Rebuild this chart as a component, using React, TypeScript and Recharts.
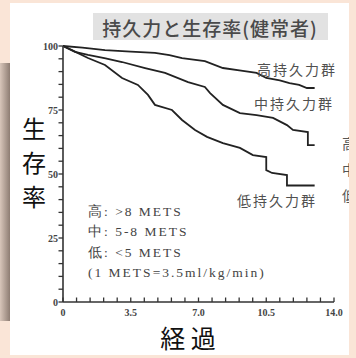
import React from "react";
import { LineChart, Line, XAxis, YAxis } from "recharts";

// Survival (%) vs elapsed years, three endurance groups
const highGroup = [
  { t: 0, s: 100 }, { t: 1.0, s: 99.4 }, { t: 2.17, s: 98.4 }, { t: 3.5, s: 97.8 },
  { t: 4.75, s: 97.3 }, { t: 5.5, s: 96.4 }, { t: 6.15, s: 95.3 }, { t: 7.33, s: 94.1 },
  { t: 8.26, s: 91.4 }, { t: 9.2, s: 90.4 }, { t: 10.0, s: 89.5 }, { t: 10.5, s: 87.5 },
  { t: 11.2, s: 86.6 }, { t: 11.7, s: 85.5 }, { t: 12.2, s: 84.8 }, { t: 12.6, s: 83.6 },
  { t: 13.0, s: 83.6 },
];
const midGroup = [
  { t: 0, s: 100 }, { t: 0.62, s: 97.7 }, { t: 1.29, s: 96.5 }, { t: 2.2, s: 95.2 },
  { t: 3.05, s: 93.75 }, { t: 4.24, s: 91.4 }, { t: 5.27, s: 89.5 }, { t: 6.46, s: 85.9 },
  { t: 7.33, s: 84.0 }, { t: 7.6, s: 81.6 }, { t: 8.26, s: 77.0 }, { t: 9.14, s: 73.8 },
  { t: 10.0, s: 73.0 }, { t: 10.85, s: 71.9 }, { t: 11.57, s: 69.1 }, { t: 11.88, s: 67.2 },
  { t: 12.65, s: 66.4 }, { t: 12.65, s: 61.3 }, { t: 13.0, s: 61.3 },
];
const lowGroup = [
  { t: 0, s: 100 }, { t: 0.46, s: 98.4 }, { t: 1.29, s: 95.3 }, { t: 2.17, s: 92.6 },
  { t: 3.05, s: 87.5 }, { t: 3.87, s: 84.8 }, { t: 4.39, s: 80.9 }, { t: 4.75, s: 77.0 },
  { t: 5.63, s: 75.0 }, { t: 6.15, s: 71.1 }, { t: 6.82, s: 67.2 }, { t: 7.44, s: 64.5 },
  { t: 8.26, s: 62.1 }, { t: 9.14, s: 60.2 }, { t: 9.81, s: 57.4 }, { t: 10.5, s: 56.6 },
  { t: 10.5, s: 51.5 }, { t: 10.8, s: 50.4 }, { t: 11.57, s: 49.6 }, { t: 11.57, s: 45.5 },
  { t: 13.0, s: 45.5 },
];

const xTicks = [0, 0.7, 1.4, 2.1, 2.8, 3.5, 4.2, 4.9, 5.6, 6.3, 7, 7.7, 8.4, 9.1, 9.8, 10.5, 11.2, 11.9, 12.6, 13.3, 14];
const xMajor = [0, 3.5, 7, 10.5, 14];
const xMajorLabels = ["0", "3.5", "7.0", "10.5", "14.0"];
const yTicks = [0, 5, 10, 15, 20, 25, 30, 35, 40, 45, 50, 55, 60, 65, 70, 75, 80, 85, 90, 95, 100];
const yMajor = [0, 25, 50, 75, 100];
const yMajorLabels = ["0", "25", "50", "75", "100"];

const title = "持久力と生存率(健常者)";
const yTitleChars = ["生", "存", "率"];
const xTitle = "経 過";
const groupLabels = ["高持久力群", "中持久力群", "低持久力群"];
const legendLines = ["高: >8 METS", "中: 5-8 METS", "低: <5 METS", "(1 METS=3.5ml/kg/min)"];
const edgeChars = ["高", "中", "低"];

const JP = '"Noto Sans CJK JP", "Noto Sans", sans-serif';
const SERIF = '"Liberation Serif", "DejaVu Serif", serif';

const XTick = (props: any) => {
  const { x, payload } = props;
  const idx = xMajor.findIndex((m) => Math.abs(m - payload.value) < 1e-6);
  if (idx < 0) return <g />;
  return (
    <text x={x} y={316} textAnchor="middle" fontFamily={SERIF} fontWeight="bold" fontSize={10} fill="#444">
      {xMajorLabels[idx]}
    </text>
  );
};

const YTick = (props: any) => {
  const { y, payload } = props;
  const idx = yMajor.findIndex((m) => Math.abs(m - payload.value) < 1e-6);
  if (idx < 0) return <g />;
  return (
    <text x={58} y={y + 3.5} textAnchor="end" fontFamily={SERIF} fontWeight="bold" fontSize={10} fill="#444">
      {yMajorLabels[idx]}
    </text>
  );
};

export default function App() {
  return (
    <div style={{ position: "absolute", left: 0, top: 0, width: 356, height: 358, background: "#fae5d7", overflow: "hidden" }}>
      <svg width={356} height={358} style={{ position: "absolute", left: 0, top: 0 }}>
        <defs>
          <linearGradient id="strip" x1="0" x2="1" y1="0" y2="0">
            <stop offset="0" stopColor="#d8c6ba" />
            <stop offset="1" stopColor="#8e7d73" />
          </linearGradient>
          <clipPath id="edge">
            <rect x={340} y={120} width={9} height={100} />
          </clipPath>
        </defs>
        <rect x={10} y={3} width={339} height={352} fill="#ffffff" />
        <rect x={0} y={63} width={10} height={258} fill="url(#strip)" />
        <rect x={93} y={13} width={235} height={27} fill="#e2e2e2" />
      </svg>
      <div style={{ position: "absolute", left: 0, top: 0 }}>
        <LineChart width={356} height={358} margin={{ top: 46, right: 22, bottom: 56, left: 33 }}>
          <XAxis
            dataKey="t"
            type="number"
            domain={[0, 14]}
            ticks={xTicks}
            interval={0}
            height={20}
            mirror
            tickSize={4.5}
            tickLine={{ stroke: "#333", strokeWidth: 1.3 }}
            tick={<XTick />}
            axisLine={{ stroke: "#333", strokeWidth: 1.6 }}
            allowDataOverflow
          />
          <YAxis
            type="number"
            domain={[0, 100]}
            ticks={yTicks}
            interval={0}
            width={30}
            tickSize={4.5}
            tickLine={{ stroke: "#333", strokeWidth: 1.3 }}
            tick={<YTick />}
            axisLine={{ stroke: "#333", strokeWidth: 1.6 }}
          />
          <Line data={highGroup} dataKey="s" type="linear" dot={false} stroke="#222" strokeWidth={1.8} isAnimationActive={false} />
          <Line data={midGroup} dataKey="s" type="linear" dot={false} stroke="#222" strokeWidth={1.8} isAnimationActive={false} />
          <Line data={lowGroup} dataKey="s" type="linear" dot={false} stroke="#222" strokeWidth={1.8} isAnimationActive={false} />
        </LineChart>
      </div>
      <svg width={356} height={358} style={{ position: "absolute", left: 0, top: 0, pointerEvents: "none" }}>
        <text x={210} y={27} textAnchor="middle" dominantBaseline="central" fontFamily={JP} fontSize={19} fontWeight={500} fill="#4a4a4a" letterSpacing={1}>
          {title}
        </text>
        <text x={297} y={69} textAnchor="middle" dominantBaseline="central" fontFamily={JP} fontSize={14} fill="#505050" letterSpacing={2}>
          {groupLabels[0]}
        </text>
        <text x={294} y={103} textAnchor="middle" dominantBaseline="central" fontFamily={JP} fontSize={14} fill="#505050" letterSpacing={2}>
          {groupLabels[1]}
        </text>
        <text x={277} y={200} textAnchor="middle" dominantBaseline="central" fontFamily={JP} fontSize={14} fill="#505050" letterSpacing={2}>
          {groupLabels[2]}
        </text>
        {legendLines.map((l, i) => (
          <text key={i} x={88} y={211 + i * 20.5} dominantBaseline="central" fontFamily={SERIF} fontSize={13.5} fill="#444" letterSpacing={2}>
            {l}
          </text>
        ))}
        {yTitleChars.map((c, i) => (
          <text key={i} x={34} y={127 + i * 34} textAnchor="middle" dominantBaseline="central" fontFamily={JP} fontSize={24} fill="#111">
            {c}
          </text>
        ))}
        <text x={188} y={337} textAnchor="middle" dominantBaseline="central" fontFamily={JP} fontSize={25} fill="#111">
          {xTitle}
        </text>
        <g clipPath="url(#edge)">
          {edgeChars.map((c, i) => (
            <text key={i} x={342} y={143 + i * 26} dominantBaseline="central" fontFamily={JP} fontSize={14} fill="#555">
              {c}
            </text>
          ))}
        </g>
      </svg>
    </div>
  );
}
